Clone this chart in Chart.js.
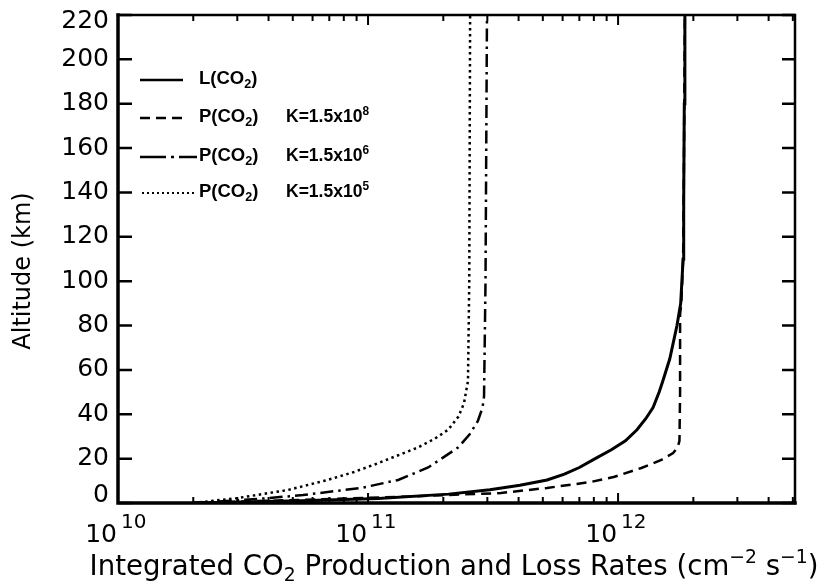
<!DOCTYPE html>
<html>
<head>
<meta charset="utf-8">
<title>Integrated CO2 production and loss rates</title>
<script src="https://cdn.jsdelivr.net/npm/chart.js@4.4.0/dist/chart.umd.min.js"></script>
<style>
  html, body { margin: 0; padding: 0; background: #fff; }
  #wrap { width: 817px; height: 582px; }
</style>
</head>
<body>
<div id="wrap"><canvas id="c" width="817" height="582"></canvas></div>
<script>
/* ---------- DATA ---------- */
// altitude (km) and integrated rate (cm^-2 s^-1) for each curve
const altLoss   = [0, 1, 2, 4, 6, 8, 10.4, 13, 16, 20, 24, 28, 33, 38, 43, 50, 55, 65, 80, 90, 110, 136, 180, 220];
const rateLoss  = [2.0e10, 5.4e10, 1.1e11, 2.1e11, 3.07e11, 4.05e11, 5.2e11, 6.1e11, 7.0e11, 8.1e11, 9.4e11, 1.07e12,
                   1.19e12, 1.29e12, 1.38e12, 1.46e12, 1.51e12, 1.61e12, 1.72e12, 1.78e12, 1.82e12, 1.83e12, 1.84e12, 1.85e12];

const altP8     = [0, 1, 2, 3, 4.5, 6.8, 9.5, 11.7, 15.8, 19.4, 22.5, 25, 28, 50, 75, 85, 90, 110, 136, 180, 220];
const rateP8    = [2.0e10, 4.0e10, 8.0e10, 1.5e11, 3.4e11, 5.2e11, 7.8e11, 9.6e11, 1.24e12, 1.49e12, 1.66e12, 1.73e12,
                   1.76e12, 1.77e12, 1.77e12, 1.77e12, 1.79e12, 1.82e12, 1.83e12, 1.84e12, 1.85e12];

const altP6     = [0, 1, 2, 3.6, 6.8, 10.4, 16, 25, 31, 37, 43, 48, 100, 220];
const rateP6    = [2.0e10, 2.8e10, 3.8e10, 5.5e10, 9.4e10, 1.32e11, 1.74e11, 2.29e11, 2.55e11, 2.75e11, 2.87e11, 2.91e11, 2.95e11, 2.99e11];

const altP5     = [0, 2.2, 5.9, 10.4, 14, 18, 25, 29, 33, 39, 45, 55, 100, 220];
const rateP5    = [2.0e10, 3.0e10, 4.8e10, 6.9e10, 8.8e10, 1.1e11, 1.58e11, 1.85e11, 2.09e11, 2.3e11, 2.42e11, 2.51e11, 2.54e11, 2.56e11];

const xMin = 1e10, xMax = 5.1e12;
const yMin = 0, yMax = 220, yStep = 20;
const xDecades = [10, 11, 12];

const legendNames = ['L(CO|2|)', 'P(CO|2|)', 'P(CO|2|)', 'P(CO|2|)'];
const legendK     = ['', '8', '6', '5'];   // exponents of K = 1.5x10^n

/* ---------- helpers ---------- */
const FONT = '"DejaVu Sans", sans-serif';
const LFONT = '"Liberation Sans", Arial, sans-serif';

function pts(alt, rate) { return alt.map((a, i) => ({ x: rate[i], y: a })); }

// parts: [[text, mode]] mode 0 normal, 1 subscript, 2 superscript
function richWidth(ctx, parts, size, family, weight) {
  let w = 0;
  parts.forEach(([t, m]) => {
    const s = m ? size * 0.68 : size;
    ctx.font = `${weight} ${s}px ${family}`;
    w += ctx.measureText(t).width;
  });
  return w;
}
function drawRich(ctx, parts, x, y, size, family, weight, align) {
  let cx = x;
  if (align === 'center') cx -= richWidth(ctx, parts, size, family, weight) / 2;
  ctx.textAlign = 'left';
  ctx.textBaseline = 'alphabetic';
  parts.forEach(([t, m]) => {
    const s = m ? size * 0.68 : size;
    const dy = m === 1 ? size * 0.22 : m === 2 ? -size * 0.42 : 0;
    ctx.font = `${weight} ${s}px ${family}`;
    ctx.fillText(t, cx, y + dy);
    cx += ctx.measureText(t).width;
  });
}
// "L(CO|2|)" -> normal, sub, normal
function splitSub(str) {
  return str.split('|').map((t, i) => [t, i % 2 ? 1 : 0]);
}

/* ---------- frame, inner ticks, labels, legend ---------- */
const decor = {
  id: 'decor',
  afterDraw(chart) {
    const { ctx, chartArea: a, scales: { x, y } } = chart;
    ctx.save();
    ctx.strokeStyle = '#000';
    ctx.fillStyle = '#000';

    // frame
    ctx.lineCap = 'square';
    ctx.lineWidth = 3.5;
    ctx.beginPath(); ctx.moveTo(a.left, a.top); ctx.lineTo(a.left, a.bottom); ctx.lineTo(a.right, a.bottom); ctx.stroke();
    ctx.lineWidth = 2.5;
    ctx.beginPath(); ctx.moveTo(a.left, a.top); ctx.lineTo(a.right, a.top); ctx.lineTo(a.right, a.bottom); ctx.stroke();

    // y ticks (inside, both sides) and labels
    ctx.lineCap = 'butt';
    ctx.lineWidth = 2.5;
    for (let v = yMin; v <= yMax; v += yStep) {
      const py = y.getPixelForValue(v);
      ctx.beginPath();
      ctx.moveTo(a.left, py); ctx.lineTo(a.left + 14, py);
      ctx.moveTo(a.right, py); ctx.lineTo(a.right - 13, py);
      ctx.stroke();
      // end labels are kept inside the axis span, as in the original
      const nudge = v === yMin ? -8 : v === yMax ? 6 : 0;
      ctx.font = `25px ${FONT}`;
      ctx.textAlign = 'right';
      ctx.textBaseline = 'middle';
      ctx.fillText(String(v), a.left - 9, py + nudge);
    }

    // x ticks (log, inside, top and bottom)
    ctx.lineWidth = 2;
    for (let e = 10; e <= 12; e++) {
      for (let m = 1; m <= 9; m++) {
        const v = m * Math.pow(10, e);
        if (v < xMin || v > xMax) continue;
        const px = x.getPixelForValue(v);
        const len = m === 1 ? 10 : 6;
        ctx.beginPath();
        ctx.moveTo(px, a.bottom); ctx.lineTo(px, a.bottom - len);
        ctx.moveTo(px, a.top); ctx.lineTo(px, a.top + len);
        ctx.stroke();
      }
    }

    // x tick labels 10^n
    xDecades.forEach(e => {
      const px = x.getPixelForValue(Math.pow(10, e));
      ctx.textBaseline = 'alphabetic';
      ctx.font = `25px ${FONT}`;
      ctx.textAlign = 'right';
      ctx.fillText('10', px - 1, a.bottom + 39);
      ctx.font = `20px ${FONT}`;
      ctx.textAlign = 'left';
      ctx.fillText(String(e), px + 3, a.bottom + 25);
    });

    // axis titles
    drawRich(ctx, [['Integrated CO', 0], ['2', 1], [' Production and Loss Rates (cm', 0], ['\u22122', 2], [' s', 0], ['\u22121', 2], [')', 0]],
      454, 575, 27.6, FONT, 'normal', 'center');
    ctx.save();
    ctx.translate(24, 271);
    ctx.rotate(-Math.PI / 2);
    ctx.font = `24px ${FONT}`;
    ctx.textAlign = 'center';
    ctx.textBaseline = 'middle';
    ctx.fillText('Altitude (km)', 0, 0);
    ctx.restore();

    // legend
    const rows = [80, 118, 157, 193];
    const dashes = [[], [10, 6], [26, 5, 3, 5, 30], [2, 3]];
    const ends = [183, 183, 197, 197];
    rows.forEach((ry, i) => {
      ctx.setLineDash(dashes[i]);
      ctx.lineWidth = i === 3 ? 2 : 2.5;
      ctx.beginPath();
      ctx.moveTo(i === 3 ? 142 : 140, ry);
      ctx.lineTo(ends[i], ry);
      ctx.stroke();
      ctx.setLineDash([]);
      drawRich(ctx, splitSub(legendNames[i]), 199, ry + 4, 18.5, LFONT, 'bold', 'left');
      if (legendK[i]) {
        drawRich(ctx, [['K=1.5x10', 0], [legendK[i], 2]], 286, ry + 4, 17.5, LFONT, 'bold', 'left');
      }
    });
    ctx.restore();
  }
};

/* ---------- CHART ---------- */
const line = (label, alt, rate, dash, width) => ({
  label, data: pts(alt, rate), showLine: true,
  borderColor: '#000', borderWidth: width, borderDash: dash,
  pointRadius: 0, tension: 0, fill: false
});

new Chart(document.getElementById('c').getContext('2d'), {
  type: 'scatter',
  data: {
    datasets: [
      line('L(CO2)', altLoss, rateLoss, [], 3),
      line('P(CO2) K=1.5x10^8', altP8, rateP8, [10, 6], 2.5),
      line('P(CO2) K=1.5x10^6', altP6, rateP6, [13, 5, 2.5, 5], 2.5),
      line('P(CO2) K=1.5x10^5', altP5, rateP5, [2.5, 3.5], 2.5)
    ]
  },
  options: {
    responsive: false,
    animation: false,
    layout: { padding: { left: 0, right: 22, top: 15, bottom: 0 } },
    plugins: { legend: { display: false }, tooltip: { enabled: false } },
    scales: {
      x: {
        type: 'logarithmic', min: xMin, max: xMax,
        ticks: { display: false },
        grid: { display: false, drawTicks: false },
        border: { display: false },
        afterFit: s => { s.height = 79; }
      },
      y: {
        type: 'linear', min: yMin, max: yMax,
        ticks: { display: false, stepSize: yStep },
        grid: { display: false, drawTicks: false },
        border: { display: false },
        afterFit: s => { s.width = 118; }
      }
    }
  },
  plugins: [decor]
});
</script>
</body>
</html>
